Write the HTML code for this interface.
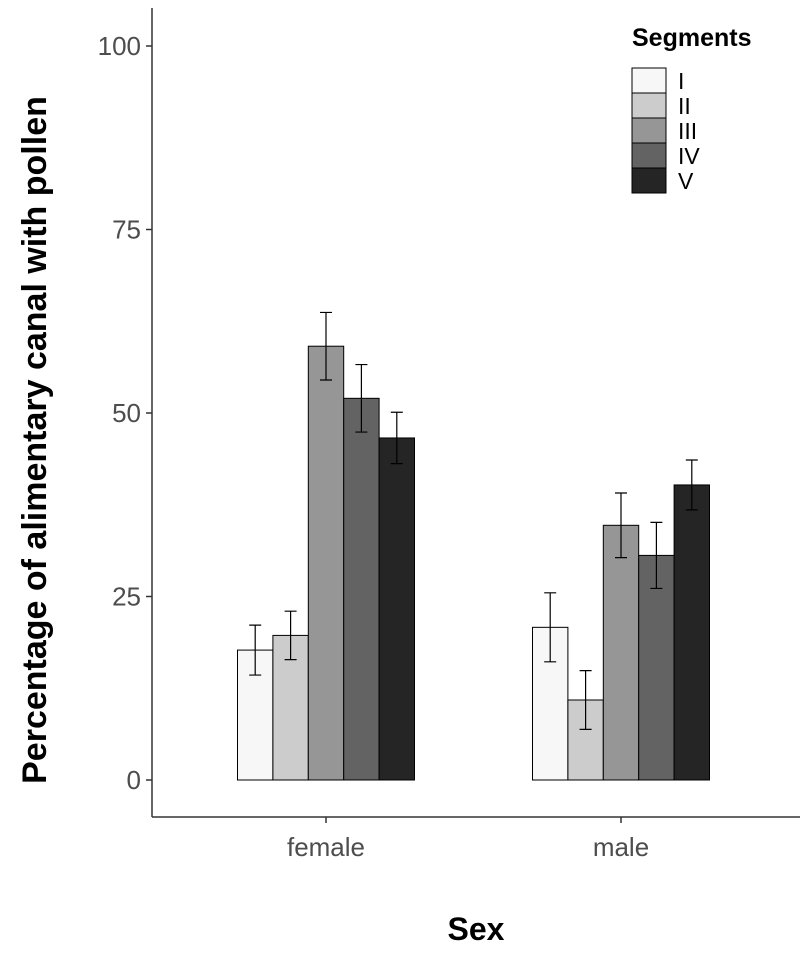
<!DOCTYPE html>
<html><head><meta charset="utf-8"><style>
html,body{margin:0;padding:0;background:#fff;}
svg{display:block;font-family:"Liberation Sans",Arial,sans-serif;}
</style></head><body>
<svg id="chart" width="800" height="957"></svg>
<script>
const groups = ["female","male"];
const segments = ["I","II","III","IV","V"];
const colors = ["#f7f7f7","#cccccc","#969696","#636363","#252525"];
const femaleVals = [17.7,19.7,59.1,52.0,46.6];
const femaleErr = [3.4,3.3,4.6,4.6,3.5];
const maleVals = [20.8,10.9,34.7,30.6,40.2];
const maleErr = [4.7,4.0,4.4,4.5,3.4];
const yTicks = [0,25,50,75,100];

const NS="http://www.w3.org/2000/svg";
const svg=document.getElementById('chart');
function mk(tag,attrs,parent){const e=document.createElementNS(NS,tag);for(const k in attrs)e.setAttribute(k,attrs[k]);(parent||svg).appendChild(e);return e;}
const y=v=>780-v*7.34;
const groupCenter={female:326,male:621};
const barW=35.4;
const x=(g,i)=>groupCenter[g]+(i-2.5)*barW;

const ax=mk('line',{x1:152,y1:8,x2:152,y2:817,stroke:'#333','stroke-width':1.5});


const bx=mk('line',{x1:152,y1:817,x2:800,y2:817,stroke:'#333','stroke-width':1.5});



yTicks.forEach(t=>{
  const tk=mk('line',{x1:146,x2:152,y1:y(t),y2:y(t),stroke:'#333','stroke-width':1.5});
  
  
  const tl=mk('text',{x:141,y:y(t)+9,'text-anchor':'end','font-size':26,fill:'#4d4d4d'});
  tl.textContent=t;
  
  
});
groups.forEach(g=>{
  const c=groupCenter[g];
  const tk=mk('line',{x1:c,x2:c,y1:817,y2:823,stroke:'#333','stroke-width':1.5});
  
  
  const tl=mk('text',{x:c,y:856,'text-anchor':'middle','font-size':26,fill:'#4d4d4d'});
  tl.textContent=g;
  
  
});

const data={female:[femaleVals,femaleErr],male:[maleVals,maleErr]};
groups.forEach(g=>{
  const [vals,errs]=data[g];
  vals.forEach((v,i)=>{
    const r=mk('rect',{x:x(g,i),y:y(v),width:barW,height:y(0)-y(v),fill:colors[i],stroke:'#000','stroke-width':1});
    
    
    const cx=x(g,i)+barW/2, hi=y(v+errs[i]), lo=y(v-errs[i]);
    const eb=mk('path',{d:`M${cx-6},${hi}H${cx+6}M${cx},${hi}V${lo}M${cx-6},${lo}H${cx+6}`,stroke:'#000','stroke-width':1.2,fill:'none'});
    
    
  });
});

const lt=mk('text',{x:632,y:46,'font-size':25,'font-weight':'bold',fill:'#000'});
lt.textContent='Segments';


segments.forEach((s,i)=>{
  const ky=68+i*25;
  const k=mk('rect',{x:632,y:ky,width:34,height:25,fill:colors[i],stroke:'#000','stroke-width':1});
  
  
  const l=mk('text',{x:678,y:ky+21,'font-size':23,fill:'#000'});
  l.textContent=s;
  
  
});

const yt=mk('text',{x:0,y:0,transform:'translate(46,440) rotate(-90)','text-anchor':'middle','font-size':34,'font-weight':'bold',fill:'#000'});
yt.textContent='Percentage of alimentary canal with pollen';


const xt=mk('text',{x:476,y:940,'text-anchor':'middle','font-size':32,'font-weight':'bold',fill:'#000'});
xt.textContent='Sex';


</script>
</body></html>
